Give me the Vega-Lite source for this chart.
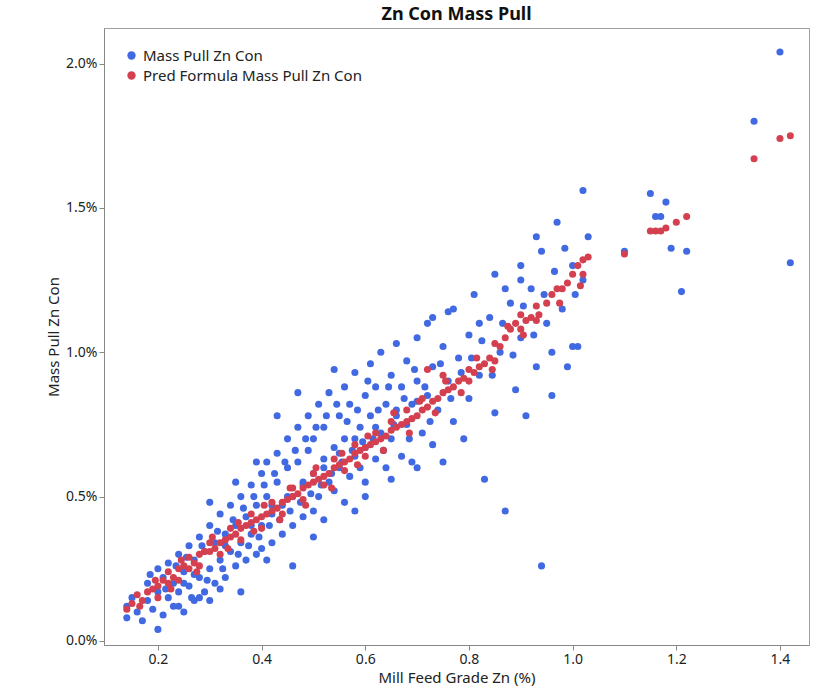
{
  "$schema": "https://vega.github.io/schema/vega-lite/v6.json",
  "width": 819,
  "height": 689,
  "autosize": {"type": "fit", "contains": "padding"},
  "padding": {"left": 46, "top": 6, "right": 10, "bottom": 4},
  "background": "white",
  "config": {
    "font": "Noto Sans",
    "view": {"stroke": "#a0a0a0"},
    "axis": {"grid": false, "labelFontSize": 14, "titleFontSize": 15, "titleFontWeight": "normal", "labelColor": "#222", "titleColor": "#222", "domainColor": "#888", "tickColor": "#888"}
  },
  "title": {"text": "Zn Con Mass Pull", "fontSize": 18, "fontWeight": "bold", "color": "#111"},
  "datasets": {
    "mass": [
      {"grade":0.14,"pull":0.08},{"grade":0.14,"pull":0.12},{"grade":0.15,"pull":0.15},{"grade":0.16,"pull":0.10},{"grade":0.17,"pull":0.07},{"grade":0.18,"pull":0.14},{"grade":0.18,"pull":0.20},{"grade":0.19,"pull":0.11},{"grade":0.2,"pull":0.04},{"grade":0.2,"pull":0.25},{"grade":0.2,"pull":0.17},{"grade":0.21,"pull":0.09},{"grade":0.21,"pull":0.22},{"grade":0.22,"pull":0.15},{"grade":0.22,"pull":0.27},{"grade":0.23,"pull":0.12},{"grade":0.23,"pull":0.20},{"grade":0.24,"pull":0.30},{"grade":0.24,"pull":0.17},{"grade":0.25,"pull":0.10},{"grade":0.25,"pull":0.24},{"grade":0.26,"pull":0.33},{"grade":0.26,"pull":0.19},{"grade":0.27,"pull":0.14},{"grade":0.27,"pull":0.28},{"grade":0.28,"pull":0.36},{"grade":0.28,"pull":0.22},{"grade":0.29,"pull":0.17},{"grade":0.29,"pull":0.31},{"grade":0.3,"pull":0.40},{"grade":0.3,"pull":0.25},{"grade":0.3,"pull":0.14},{"grade":0.31,"pull":0.34},{"grade":0.31,"pull":0.20},{"grade":0.32,"pull":0.44},{"grade":0.32,"pull":0.28},{"grade":0.33,"pull":0.37},{"grade":0.33,"pull":0.22},{"grade":0.34,"pull":0.47},{"grade":0.34,"pull":0.31},{"grade":0.35,"pull":0.40},{"grade":0.35,"pull":0.26},{"grade":0.36,"pull":0.50},{"grade":0.36,"pull":0.34},{"grade":0.37,"pull":0.43},{"grade":0.37,"pull":0.28},{"grade":0.38,"pull":0.54},{"grade":0.38,"pull":0.37},{"grade":0.39,"pull":0.47},{"grade":0.39,"pull":0.30},{"grade":0.4,"pull":0.58},{"grade":0.4,"pull":0.40},{"grade":0.4,"pull":0.32},{"grade":0.41,"pull":0.50},{"grade":0.41,"pull":0.62},{"grade":0.42,"pull":0.44},{"grade":0.42,"pull":0.34},{"grade":0.43,"pull":0.55},{"grade":0.43,"pull":0.65},{"grade":0.44,"pull":0.47},{"grade":0.44,"pull":0.37},{"grade":0.45,"pull":0.60},{"grade":0.45,"pull":0.70},{"grade":0.46,"pull":0.50},{"grade":0.46,"pull":0.40},{"grade":0.47,"pull":0.62},{"grade":0.47,"pull":0.74},{"grade":0.48,"pull":0.54},{"grade":0.48,"pull":0.43},{"grade":0.49,"pull":0.66},{"grade":0.49,"pull":0.78},{"grade":0.5,"pull":0.58},{"grade":0.5,"pull":0.45},{"grade":0.5,"pull":0.70},{"grade":0.51,"pull":0.82},{"grade":0.51,"pull":0.50},{"grade":0.52,"pull":0.63},{"grade":0.52,"pull":0.74},{"grade":0.53,"pull":0.55},{"grade":0.53,"pull":0.86},{"grade":0.54,"pull":0.67},{"grade":0.54,"pull":0.52},{"grade":0.55,"pull":0.78},{"grade":0.55,"pull":0.60},{"grade":0.56,"pull":0.88},{"grade":0.56,"pull":0.70},{"grade":0.57,"pull":0.57},{"grade":0.57,"pull":0.82},{"grade":0.58,"pull":0.64},{"grade":0.58,"pull":0.93},{"grade":0.59,"pull":0.74},{"grade":0.59,"pull":0.60},{"grade":0.6,"pull":0.85},{"grade":0.6,"pull":0.67},{"grade":0.6,"pull":0.55},{"grade":0.61,"pull":0.96},{"grade":0.61,"pull":0.78},{"grade":0.62,"pull":0.63},{"grade":0.62,"pull":0.88},{"grade":0.63,"pull":0.72},{"grade":0.63,"pull":1.0},{"grade":0.64,"pull":0.82},{"grade":0.64,"pull":0.60},{"grade":0.65,"pull":0.92},{"grade":0.65,"pull":0.70},{"grade":0.66,"pull":0.78},{"grade":0.66,"pull":1.03},{"grade":0.67,"pull":0.64},{"grade":0.67,"pull":0.88},{"grade":0.68,"pull":0.75},{"grade":0.68,"pull":0.97},{"grade":0.69,"pull":0.82},{"grade":0.69,"pull":0.62},{"grade":0.7,"pull":1.05},{"grade":0.7,"pull":0.90},{"grade":0.71,"pull":0.72},{"grade":0.72,"pull":0.85},{"grade":0.72,"pull":1.10},{"grade":0.73,"pull":0.95},{"grade":0.73,"pull":0.68},{"grade":0.74,"pull":0.80},{"grade":0.75,"pull":1.02},{"grade":0.75,"pull":0.62},{"grade":0.76,"pull":0.90},{"grade":0.77,"pull":1.15},{"grade":0.77,"pull":0.76},{"grade":0.78,"pull":0.98},{"grade":0.79,"pull":0.70},{"grade":0.8,"pull":1.06},{"grade":0.8,"pull":0.84},{"grade":0.81,"pull":1.20},{"grade":0.82,"pull":0.92},{"grade":0.83,"pull":0.56},{"grade":0.84,"pull":1.12},{"grade":0.85,"pull":0.79},{"grade":0.85,"pull":1.27},{"grade":0.86,"pull":1.00},{"grade":0.87,"pull":0.45},{"grade":0.88,"pull":1.17},{"grade":0.89,"pull":0.87},{"grade":0.9,"pull":1.30},{"grade":0.9,"pull":1.05},{"grade":0.91,"pull":0.78},{"grade":0.92,"pull":1.22},{"grade":0.93,"pull":0.95},{"grade":0.94,"pull":0.26},{"grade":0.94,"pull":1.35},{"grade":0.95,"pull":1.10},{"grade":0.96,"pull":0.85},{"grade":0.97,"pull":1.45},{"grade":0.98,"pull":1.15},{"grade":0.99,"pull":0.95},{"grade":1.0,"pull":1.30},{"grade":1.01,"pull":1.02},{"grade":1.02,"pull":1.56},{"grade":1.02,"pull":1.25},{"grade":1.03,"pull":1.40},{"grade":1.1,"pull":1.35},{"grade":1.15,"pull":1.55},{"grade":1.16,"pull":1.47},{"grade":1.17,"pull":1.47},{"grade":1.18,"pull":1.52},{"grade":1.19,"pull":1.36},{"grade":1.21,"pull":1.21},{"grade":1.22,"pull":1.35},{"grade":1.35,"pull":1.80},{"grade":1.4,"pull":2.04},{"grade":1.42,"pull":1.31},
      {"grade":0.36,"pull":0.17},{"grade":0.46,"pull":0.26},{"grade":0.25,"pull":0.20},{"grade":0.27,"pull":0.23},{"grade":0.33,"pull":0.33},{"grade":0.38,"pull":0.40},{"grade":0.42,"pull":0.47},{"grade":0.45,"pull":0.50},{"grade":0.48,"pull":0.55},{"grade":0.52,"pull":0.60},{"grade":0.55,"pull":0.65},{"grade":0.58,"pull":0.70},{"grade":0.62,"pull":0.74},{"grade":0.66,"pull":0.80},{"grade":0.7,"pull":0.83},{"grade":0.43,"pull":0.78},{"grade":0.47,"pull":0.86},{"grade":0.54,"pull":0.94},{"grade":0.3,"pull":0.48},{"grade":0.35,"pull":0.55},{"grade":0.39,"pull":0.62},{"grade":0.52,"pull":0.42},{"grade":0.56,"pull":0.48},{"grade":0.6,"pull":0.50},{"grade":0.65,"pull":0.56},{"grade":0.7,"pull":0.60},{"grade":0.24,"pull":0.12},{"grade":0.28,"pull":0.15},{"grade":0.32,"pull":0.18},{"grade":0.41,"pull":0.28},{"grade":0.5,"pull":0.36},{"grade":0.58,"pull":0.45},{"grade":0.73,"pull":1.12},{"grade":0.76,"pull":1.14},{"grade":0.82,"pull":1.10},{"grade":0.87,"pull":1.22},{"grade":0.9,"pull":1.25},{"grade":0.93,"pull":1.40},{"grade":0.96,"pull":1.00},{"grade":1.0,"pull":1.02},
      {"grade":0.185,"pull":0.23},{"grade":0.215,"pull":0.18},{"grade":0.235,"pull":0.26},{"grade":0.255,"pull":0.29},{"grade":0.265,"pull":0.15},{"grade":0.285,"pull":0.33},{"grade":0.295,"pull":0.21},{"grade":0.315,"pull":0.38},{"grade":0.325,"pull":0.25},{"grade":0.345,"pull":0.42},{"grade":0.355,"pull":0.30},{"grade":0.365,"pull":0.46},{"grade":0.375,"pull":0.33},{"grade":0.385,"pull":0.50},{"grade":0.395,"pull":0.36},{"grade":0.405,"pull":0.54},{"grade":0.415,"pull":0.40},{"grade":0.425,"pull":0.58},{"grade":0.435,"pull":0.42},{"grade":0.445,"pull":0.62},{"grade":0.455,"pull":0.45},{"grade":0.465,"pull":0.66},{"grade":0.475,"pull":0.48},{"grade":0.485,"pull":0.70},{"grade":0.495,"pull":0.51},{"grade":0.505,"pull":0.74},{"grade":0.515,"pull":0.54},{"grade":0.525,"pull":0.78},{"grade":0.535,"pull":0.58},{"grade":0.545,"pull":0.82},{"grade":0.555,"pull":0.62},{"grade":0.565,"pull":0.76},{"grade":0.575,"pull":0.66},{"grade":0.585,"pull":0.80},{"grade":0.595,"pull":0.69},{"grade":0.605,"pull":0.90},{"grade":0.615,"pull":0.70},{"grade":0.625,"pull":0.80},{"grade":0.635,"pull":0.66},{"grade":0.645,"pull":0.88},{"grade":0.655,"pull":0.75},{"grade":0.675,"pull":0.84},{"grade":0.685,"pull":0.70},{"grade":0.695,"pull":0.94},{"grade":0.715,"pull":0.88},{"grade":0.725,"pull":0.76},{"grade":0.745,"pull":0.96},{"grade":0.765,"pull":0.84},{"grade":0.785,"pull":0.93},{"grade":0.805,"pull":0.98},{"grade":0.825,"pull":1.04},{"grade":0.845,"pull":0.92},{"grade":0.865,"pull":1.10},{"grade":0.885,"pull":0.99},{"grade":0.905,"pull":1.16},{"grade":0.925,"pull":1.06},{"grade":0.945,"pull":1.20},{"grade":0.965,"pull":1.28},{"grade":0.985,"pull":1.36},{"grade":1.005,"pull":1.20}
    ],
    "pred": [
      {"grade":0.14,"pull":0.11},{"grade":0.15,"pull":0.13},{"grade":0.16,"pull":0.16},{"grade":0.17,"pull":0.14},{"grade":0.18,"pull":0.17},{"grade":0.19,"pull":0.18},{"grade":0.2,"pull":0.19},{"grade":0.2,"pull":0.15},{"grade":0.21,"pull":0.21},{"grade":0.22,"pull":0.20},{"grade":0.22,"pull":0.24},{"grade":0.23,"pull":0.22},{"grade":0.24,"pull":0.25},{"grade":0.24,"pull":0.21},{"grade":0.25,"pull":0.26},{"grade":0.26,"pull":0.25},{"grade":0.26,"pull":0.29},{"grade":0.27,"pull":0.27},{"grade":0.28,"pull":0.30},{"grade":0.28,"pull":0.26},{"grade":0.29,"pull":0.31},{"grade":0.3,"pull":0.31},{"grade":0.3,"pull":0.34},{"grade":0.31,"pull":0.32},{"grade":0.32,"pull":0.34},{"grade":0.32,"pull":0.30},{"grade":0.33,"pull":0.35},{"grade":0.34,"pull":0.36},{"grade":0.34,"pull":0.39},{"grade":0.35,"pull":0.37},{"grade":0.36,"pull":0.39},{"grade":0.36,"pull":0.35},{"grade":0.37,"pull":0.40},{"grade":0.38,"pull":0.41},{"grade":0.38,"pull":0.44},{"grade":0.39,"pull":0.42},{"grade":0.4,"pull":0.43},{"grade":0.4,"pull":0.39},{"grade":0.41,"pull":0.44},{"grade":0.42,"pull":0.45},{"grade":0.42,"pull":0.48},{"grade":0.43,"pull":0.46},{"grade":0.44,"pull":0.48},{"grade":0.44,"pull":0.44},{"grade":0.45,"pull":0.49},{"grade":0.46,"pull":0.50},{"grade":0.46,"pull":0.53},{"grade":0.47,"pull":0.51},{"grade":0.48,"pull":0.53},{"grade":0.48,"pull":0.49},{"grade":0.49,"pull":0.54},{"grade":0.5,"pull":0.55},{"grade":0.5,"pull":0.58},{"grade":0.51,"pull":0.56},{"grade":0.52,"pull":0.57},{"grade":0.52,"pull":0.54},{"grade":0.53,"pull":0.58},{"grade":0.54,"pull":0.60},{"grade":0.54,"pull":0.63},{"grade":0.55,"pull":0.61},{"grade":0.56,"pull":0.62},{"grade":0.56,"pull":0.59},{"grade":0.57,"pull":0.63},{"grade":0.58,"pull":0.65},{"grade":0.58,"pull":0.68},{"grade":0.59,"pull":0.66},{"grade":0.6,"pull":0.67},{"grade":0.6,"pull":0.64},{"grade":0.61,"pull":0.68},{"grade":0.62,"pull":0.69},{"grade":0.62,"pull":0.72},{"grade":0.63,"pull":0.70},{"grade":0.64,"pull":0.71},{"grade":0.65,"pull":0.73},{"grade":0.65,"pull":0.76},{"grade":0.66,"pull":0.74},{"grade":0.67,"pull":0.75},{"grade":0.68,"pull":0.76},{"grade":0.68,"pull":0.80},{"grade":0.69,"pull":0.77},{"grade":0.7,"pull":0.78},{"grade":0.71,"pull":0.80},{"grade":0.71,"pull":0.84},{"grade":0.72,"pull":0.81},{"grade":0.72,"pull":0.94},{"grade":0.73,"pull":0.83},{"grade":0.74,"pull":0.84},{"grade":0.75,"pull":0.86},{"grade":0.75,"pull":0.92},{"grade":0.76,"pull":0.87},{"grade":0.77,"pull":0.88},{"grade":0.78,"pull":0.90},{"grade":0.79,"pull":0.91},{"grade":0.8,"pull":0.90},{"grade":0.8,"pull":0.94},{"grade":0.81,"pull":0.93},{"grade":0.82,"pull":0.95},{"grade":0.83,"pull":0.96},{"grade":0.84,"pull":0.98},{"grade":0.85,"pull":0.97},{"grade":0.85,"pull":1.03},{"grade":0.86,"pull":1.02},{"grade":0.87,"pull":1.05},{"grade":0.88,"pull":1.08},{"grade":0.89,"pull":1.10},{"grade":0.9,"pull":1.08},{"grade":0.9,"pull":1.13},{"grade":0.91,"pull":1.11},{"grade":0.92,"pull":1.12},{"grade":0.93,"pull":1.11},{"grade":0.93,"pull":1.16},{"grade":0.95,"pull":1.17},{"grade":0.96,"pull":1.20},{"grade":0.97,"pull":1.22},{"grade":0.98,"pull":1.22},{"grade":0.99,"pull":1.24},{"grade":1.0,"pull":1.27},{"grade":1.01,"pull":1.30},{"grade":1.02,"pull":1.32},{"grade":1.02,"pull":1.27},{"grade":1.03,"pull":1.33},{"grade":1.1,"pull":1.34},{"grade":1.15,"pull":1.42},{"grade":1.16,"pull":1.42},{"grade":1.17,"pull":1.42},{"grade":1.18,"pull":1.43},{"grade":1.2,"pull":1.45},{"grade":1.22,"pull":1.47},{"grade":1.35,"pull":1.67},{"grade":1.4,"pull":1.74},{"grade":1.42,"pull":1.75},
      {"grade":0.165,"pull":0.12},{"grade":0.195,"pull":0.21},{"grade":0.225,"pull":0.18},{"grade":0.245,"pull":0.28},{"grade":0.275,"pull":0.24},{"grade":0.305,"pull":0.36},{"grade":0.335,"pull":0.32},{"grade":0.355,"pull":0.41},{"grade":0.385,"pull":0.38},{"grade":0.405,"pull":0.47},{"grade":0.435,"pull":0.42},{"grade":0.455,"pull":0.53},{"grade":0.485,"pull":0.47},{"grade":0.505,"pull":0.60},{"grade":0.535,"pull":0.53},{"grade":0.555,"pull":0.65},{"grade":0.585,"pull":0.61},{"grade":0.605,"pull":0.71},{"grade":0.635,"pull":0.66},{"grade":0.655,"pull":0.79},{"grade":0.685,"pull":0.72},{"grade":0.705,"pull":0.83},{"grade":0.735,"pull":0.79},{"grade":0.755,"pull":0.90},{"grade":0.785,"pull":0.86},{"grade":0.815,"pull":0.98},{"grade":0.845,"pull":0.94},{"grade":0.875,"pull":1.09},{"grade":0.905,"pull":1.06},{"grade":0.935,"pull":1.13},{"grade":0.975,"pull":1.17},{"grade":1.015,"pull":1.23}
    ]
  },
  "layer": [
    {
      "data": {"name": "mass"},
      "mark": {"type": "circle", "size": 50, "opacity": 1},
      "encoding": {
        "x": {"field": "grade", "type": "quantitative", "title": "Mill Feed Grade Zn (%)", "scale": {"domain": [0.096, 1.456], "nice": false}, "axis": {"values": [0.2, 0.4, 0.6, 0.8, 1.0, 1.2, 1.4], "format": ".1f"}},
        "y": {"field": "pull", "type": "quantitative", "title": "Mass Pull Zn Con", "scale": {"domain": [-0.014, 2.123], "nice": false}, "axis": {"values": [0, 0.5, 1.0, 1.5, 2.0], "labelExpr": "format(datum.value, '.1f') + '%'"}},
        "color": {"datum": "Mass Pull Zn Con"}
      }
    },
    {
      "data": {"name": "pred"},
      "mark": {"type": "circle", "size": 50, "opacity": 1},
      "encoding": {
        "x": {"field": "grade", "type": "quantitative"},
        "y": {"field": "pull", "type": "quantitative"},
        "color": {"datum": "Pred Formula Mass Pull Zn Con"}
      }
    }
  ],
  "resolve": {"scale": {"color": "shared"}},
  "encoding": {
    "color": {
      "scale": {"domain": ["Mass Pull Zn Con", "Pred Formula Mass Pull Zn Con"], "range": ["#4169E1", "#D4404F"]},
      "legend": {"title": null, "orient": "top-left", "labelFontSize": 15, "labelLimit": 0, "labelColor": "#222", "symbolType": "circle", "symbolSize": 70, "rowPadding": 4, "padding": 2}
    }
  }
}
